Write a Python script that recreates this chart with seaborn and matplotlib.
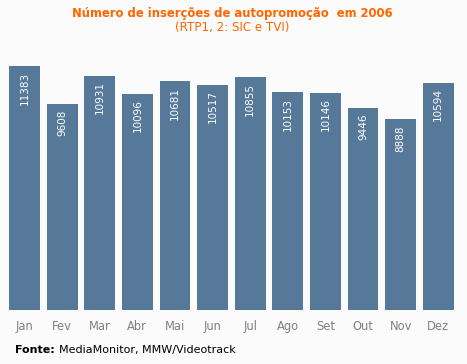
import matplotlib
matplotlib.use("Agg")
import matplotlib.pyplot as plt
import seaborn as sns
import pandas as pd

months = ["Jan", "Fev", "Mar", "Abr", "Mai", "Jun", "Jul", "Ago", "Set", "Out", "Nov", "Dez"]
values = [11383, 9608, 10931, 10096, 10681, 10517, 10855, 10153, 10146, 9446, 8888, 10594]

sns.set_theme(style="white")
plt.rcParams["font.family"] = ["DejaVu Sans"]

bg = "#fbfbfb"
bar_color = "#56799a"
orange = "#ff6600"

fig = plt.figure(figsize=(4.67, 3.64), dpi=100, facecolor=bg)
ax = fig.add_axes([5.7 / 467, (364 - 310) / 364, 451.3 / 467, 255 / 364])
ax.set_facecolor(bg)

df = pd.DataFrame({"mes": months, "valor": values})
sns.barplot(data=df, x="mes", y="valor", color=bar_color, saturation=1, width=0.82,
            linewidth=0, ax=ax)

ax.set_xlim(-0.5, len(months) - 0.5)
ax.set_ylim(0, 11383 * 255 / 244)
for s in ax.spines.values():
    s.set_visible(False)
ax.set_yticks([])
ax.set_xlabel("")
ax.set_ylabel("")
ax.tick_params(axis="x", length=0, pad=7, labelsize=8.3, labelcolor="#808080")

for i, v in enumerate(values):
    ax.annotate(str(v), xy=(i, v), xytext=(0, -4), textcoords="offset points",
                rotation=90, ha="center", va="top", color="white", fontsize=7.5)

fig.text(232 / 467, 1 - 13 / 364, "Número de inserções de autopromoção  em 2006",
         ha="center", va="center", color=orange, fontsize=8.4, fontweight="bold")
fig.text(232 / 467, 1 - 27 / 364, "(RTP1, 2: SIC e TVI)",
         ha="center", va="center", color=orange, fontsize=8.6)

t1 = fig.text(15 / 467, 1 - 350 / 364, "Fonte:", ha="left", va="center",
              color="black", fontsize=8, fontweight="bold")
fig.canvas.draw()
bb = t1.get_window_extent()
fig.text((bb.x1 + 4) / 467, 1 - 350 / 364, "MediaMonitor, MMW/Videotrack",
         ha="left", va="center", color="black", fontsize=8)

fig.savefig("out.png", dpi=100, facecolor=bg)
